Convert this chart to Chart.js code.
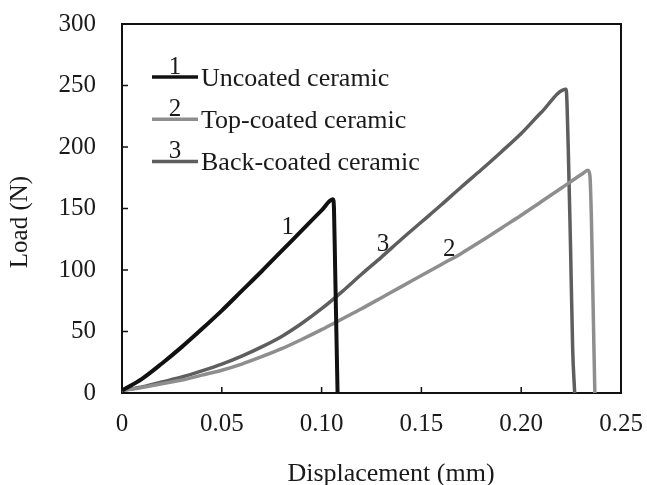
<!DOCTYPE html>
<html><head><meta charset="utf-8">
<script src="https://cdn.jsdelivr.net/npm/chart.js@4/dist/chart.umd.min.js"></script>
<style>html,body{margin:0;padding:0;background:#fff;}canvas{display:block;}</style>
</head><body>
<canvas id="c" width="647" height="485"></canvas>
<script>
// ---- data ----
const seriesNames = ['Uncoated ceramic', 'Top-coated ceramic', 'Back-coated ceramic'];
const seriesNumbers = ['1', '2', '3'];
const xAxisTitle = 'Displacement (mm)';
const yAxisTitle = 'Load (N)';

const uncoatedX = [0, 0.01, 0.02, 0.03, 0.04, 0.05, 0.06, 0.07, 0.08, 0.09, 0.10, 0.1057, 0.1062, 0.1068, 0.1074, 0.108];
const uncoatedY = [2, 11.5, 24, 37.5, 52, 67, 83, 99, 115.5, 132, 148.5, 157.5, 150, 100, 50, 0];

const topCoatedX = [0, 0.01, 0.02, 0.03, 0.04, 0.05, 0.06, 0.07, 0.08, 0.09, 0.10, 0.11, 0.12, 0.13, 0.14, 0.15, 0.16, 0.17, 0.18, 0.19, 0.20, 0.21, 0.22, 0.2305, 0.2334, 0.2344, 0.2352, 0.2358, 0.2364, 0.2369];
const topCoatedY = [2, 4.5, 7.5, 10.5, 14.5, 18.5, 23.5, 29.5, 36, 43.5, 51.5, 60, 68.5, 77.5, 86.5, 95.5, 104.5, 113.5, 123.5, 134, 144.5, 155.5, 166.5, 178, 181, 177, 140, 90, 40, 0];

const backCoatedX = [0, 0.01, 0.02, 0.03, 0.04, 0.05, 0.06, 0.07, 0.08, 0.09, 0.10, 0.11, 0.12, 0.13, 0.14, 0.15, 0.16, 0.17, 0.18, 0.19, 0.20, 0.21, 0.2225, 0.2236, 0.2247, 0.2258, 0.2268];
const backCoatedY = [2, 5, 9, 13, 18, 23.5, 30, 37.5, 46, 56.5, 68.5, 82, 96.5, 110.5, 125, 139, 153, 167.5, 181.5, 196, 211, 228, 247, 197, 120, 35, 0];

const xTickLabels = ['0', '0.05', '0.10', '0.15', '0.20', '0.25'];
const yTickLabels = ['0', '50', '100', '150', '200', '250', '300'];

// curve annotation anchors (data coordinates) for the numbers 1, 2, 3
const curveLabelX = [0.083, 0.164, 0.1307];
const curveLabelY = [134.5, 117, 121];

// ---- styles ----
const colors = ['#111111', '#8e8e8e', '#5e5e5e'];
const widths = [4, 3.5, 3.5];
const FONT = "'Liberation Serif', 'Times New Roman', serif";
const TEXT = '#1a1a1a';

function toPoints(xs, ys) { return xs.map((v, i) => ({x: v, y: ys[i]})); }

const xs = [uncoatedX, topCoatedX, backCoatedX];
const ys = [uncoatedY, topCoatedY, backCoatedY];

const datasets = seriesNames.map((n, i) => ({
  label: n,
  data: toPoints(xs[i], ys[i]),
  showLine: true,
  borderColor: colors[i],
  backgroundColor: colors[i],
  borderWidth: widths[i],
  pointRadius: 0,
  cubicInterpolationMode: 'monotone',
  borderJoinStyle: 'round',
  clip: 6
}));

const decor = {
  id: 'decor',
  beforeDatasetsDraw(chart) {
    const {ctx, chartArea: a, scales: {x, y}} = chart;
    ctx.save();
    ctx.strokeStyle = '#111';
    ctx.lineWidth = 2;
    ctx.strokeRect(a.left, a.top, a.right - a.left, a.bottom - a.top);
    ctx.lineWidth = 1.5;
    ctx.beginPath();
    x.ticks.forEach(t => { const p = x.getPixelForValue(t.value); ctx.moveTo(p, a.bottom); ctx.lineTo(p, a.bottom - 6); });
    y.ticks.forEach(t => { const p = y.getPixelForValue(t.value); ctx.moveTo(a.left, p); ctx.lineTo(a.left + 6, p); });
    ctx.stroke();
    // axis titles
    ctx.fillStyle = TEXT;
    ctx.font = '26px ' + FONT;
    ctx.textAlign = 'center'; ctx.textBaseline = 'alphabetic';
    ctx.fillText(xAxisTitle, a.left + 269, a.bottom + 88);
    ctx.save();
    ctx.translate(a.left - 95, a.top + 198);
    ctx.rotate(-Math.PI / 2);
    ctx.font = '25px ' + FONT;
    ctx.fillText(yAxisTitle, 0, 0);
    ctx.restore();
    ctx.restore();
  },
  afterDatasetsDraw(chart) {
    const {ctx, chartArea: a, scales: {x, y}} = chart;
    ctx.save();
    ctx.fillStyle = TEXT;
    // legend
    const lx0 = a.left + 30, lx1 = a.left + 76, ly0 = a.top + 53, dy = 42.3;
    seriesNames.forEach((n, i) => {
      const yy = ly0 + i * dy;
      ctx.strokeStyle = colors[i];
      ctx.lineWidth = 3.5;
      ctx.beginPath(); ctx.moveTo(lx0, yy); ctx.lineTo(lx1, yy); ctx.stroke();
      ctx.font = '25px ' + FONT;
      ctx.textAlign = 'center'; ctx.textBaseline = 'alphabetic';
      ctx.fillText(seriesNumbers[i], (lx0 + lx1) / 2, yy - 3.5);
      ctx.font = '26px ' + FONT;
      ctx.textAlign = 'left';
      ctx.fillText(n, lx1 + 3, yy + 8.5);
    });
    // curve numbers
    ctx.font = '25px ' + FONT;
    ctx.textAlign = 'center'; ctx.textBaseline = 'middle';
    seriesNumbers.forEach((s, i) => {
      ctx.fillText(s, x.getPixelForValue(curveLabelX[i]), y.getPixelForValue(curveLabelY[i]));
    });
    ctx.restore();
  }
};

new Chart(document.getElementById('c'), {
  type: 'scatter',
  data: {datasets},
  options: {
    responsive: false,
    animation: false,
    devicePixelRatio: 1,
    layout: {padding: {top: 24, right: 26, bottom: 0, left: 0}},
    plugins: {legend: {display: false}, tooltip: {enabled: false}},
    scales: {
      x: {
        type: 'linear', min: 0, max: 0.25,
        border: {display: false},
        grid: {display: false, drawTicks: false},
        ticks: {
          stepSize: 0.05, padding: 16, color: TEXT, maxRotation: 0,
          font: {family: FONT, size: 25},
          callback: (v) => xTickLabels[Math.round(v / 0.05)]
        },
        title: {display: false, text: xAxisTitle},
        afterFit(s) { s.height = 92; s.paddingLeft = 0; s.paddingRight = 0; }
      },
      y: {
        type: 'linear', min: 0, max: 300,
        border: {display: false},
        grid: {display: false, drawTicks: false},
        ticks: {
          stepSize: 50, padding: 26, color: TEXT,
          font: {family: FONT, size: 25},
          callback: (v) => yTickLabels[Math.round(v / 50)]
        },
        title: {display: false, text: yAxisTitle},
        afterFit(s) { s.width = 122; s.paddingTop = 0; s.paddingBottom = 0; }
      }
    }
  },
  plugins: [decor]
});
</script>
</body></html>
